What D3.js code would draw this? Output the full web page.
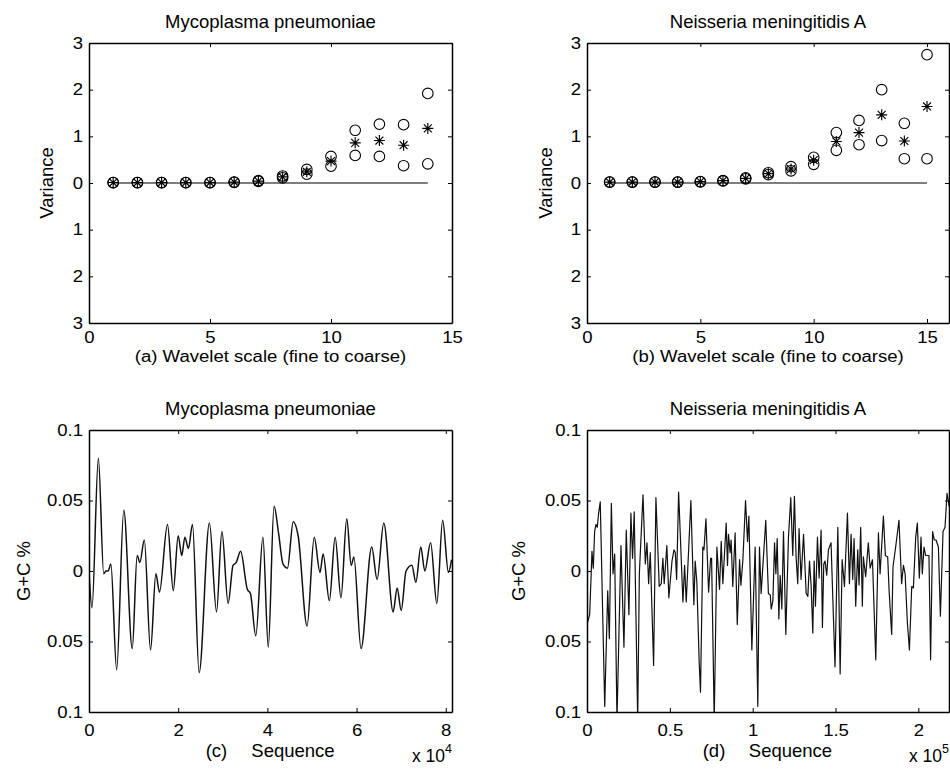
<!DOCTYPE html>
<html>
<head>
<meta charset="utf-8">
<script src="https://cdn.jsdelivr.net/npm/d3@7"></script>
<style>
  body { margin: 0; background: #fff; }
  svg text { font-family: "Liberation Sans", Arial, Helvetica, sans-serif; fill: #000; }
</style>
</head>
<body>
<div id="vis"></div>
<script>
// ---- data ----
// (a) Mycoplasma pneumoniae, wavelet variance per scale
var aScale = [1, 2, 3, 4, 5, 6, 7, 8, 9, 10, 11, 12, 13, 14];
var aUpper = [0.01, 0.01, 0.01, 0.01, 0.01, 0.02, 0.05, 0.15, 0.29, 0.57, 1.13, 1.26, 1.25, 1.92];
var aStar  = [0.01, 0.01, 0.01, 0.01, 0.01, 0.02, 0.04, 0.13, 0.24, 0.47, 0.86, 0.91, 0.81, 1.17];
var aLower = [0.01, 0.01, 0.01, 0.01, 0.01, 0.015, 0.035, 0.11, 0.19, 0.36, 0.59, 0.57, 0.37, 0.41];

// (b) Neisseria meningitidis A
var bScale = [1, 2, 3, 4, 5, 6, 7, 8, 9, 10, 11, 12, 13, 14, 15];
var bUpper = [0.02, 0.02, 0.02, 0.02, 0.03, 0.05, 0.11, 0.22, 0.35, 0.55, 1.08, 1.34, 2.0, 1.28, 2.75];
var bStar  = [0.02, 0.02, 0.02, 0.02, 0.03, 0.05, 0.10, 0.20, 0.30, 0.49, 0.89, 1.08, 1.46, 0.90, 1.64];
var bLower = [0.02, 0.02, 0.02, 0.02, 0.025, 0.045, 0.09, 0.18, 0.26, 0.40, 0.70, 0.82, 0.91, 0.52, 0.52];

// (c) G+C signal, position in units of 1e4
var cPos = [0, 0.067, 0.21, 0.33, 0.38, 0.43, 0.49, 0.62, 0.78, 0.97, 1.08, 1.14, 1.24, 1.38, 1.50, 1.58,
  1.76, 1.89, 2.00, 2.08, 2.15, 2.23, 2.32, 2.47, 2.70, 2.86, 2.98, 3.12, 3.23, 3.30, 3.40, 3.55, 3.62,
  3.74, 3.90, 4.02, 4.15, 4.25, 4.35, 4.45, 4.58, 4.69, 4.89, 5.05, 5.18, 5.25, 5.39, 5.52, 5.65, 5.78,
  5.88, 5.94, 6.10, 6.34, 6.46, 6.61, 6.82, 6.91, 7.00, 7.11, 7.24, 7.33, 7.44, 7.53, 7.66, 7.80, 7.93,
  8.06, 8.13];
var cVal = [0.000, -0.026, 0.080, -0.002, 0.000, -0.000, 0.005, -0.070, 0.043, -0.055, 0.011, 0.006, 0.022,
  -0.056, -0.002, -0.015, 0.033, -0.014, 0.025, 0.011, 0.024, 0.016, 0.033, -0.072, 0.034, -0.029, 0.028,
  -0.023, 0.004, 0.006, 0.014, -0.013, -0.016, -0.046, 0.024, -0.054, 0.046, 0.027, 0.005, 0.002, 0.035,
  0.025, -0.039, 0.024, -0.001, 0.012, -0.021, 0.024, -0.019, 0.037, 0.004, 0.010, -0.055, 0.017, -0.006,
  0.034, -0.029, -0.012, -0.028, 0.000, 0.004, -0.008, 0.017, 0.000, 0.020, -0.023, 0.036, -0.001, 0.008];

// (d) G+C signal, position in units of 1e5
var dPos = [0, 0.016, 0.024, 0.030, 0.038, 0.046, 0.054, 0.062, 0.070, 0.080, 0.107, 0.125, 0.135, 0.147,
  0.157, 0.167, 0.181, 0.205, 0.223, 0.237, 0.253, 0.265, 0.275, 0.285, 0.306, 0.316, 0.338, 0.352, 0.362,
  0.372, 0.382, 0.402, 0.416, 0.436, 0.448, 0.458, 0.466, 0.482, 0.494, 0.513, 0.525, 0.533, 0.541, 0.553,
  0.579, 0.589, 0.599, 0.627, 0.645, 0.653, 0.663, 0.677, 0.685, 0.699, 0.706, 0.718, 0.734, 0.746, 0.752,
  0.768, 0.784, 0.800, 0.810, 0.820, 0.840, 0.848, 0.854, 0.864, 0.870, 0.880, 0.894, 0.907, 0.921, 0.929,
  0.941, 0.957, 0.969, 0.977, 0.995, 1.015, 1.031, 1.041, 1.051, 1.079, 1.095, 1.106, 1.112, 1.122, 1.132,
  1.140, 1.148, 1.158, 1.166, 1.176, 1.186, 1.200, 1.216, 1.230, 1.242, 1.252, 1.262, 1.272, 1.280, 1.292,
  1.307, 1.323, 1.333, 1.343, 1.353, 1.363, 1.371, 1.379, 1.391, 1.401, 1.413, 1.421, 1.429, 1.437, 1.447,
  1.457, 1.473, 1.497, 1.514, 1.528, 1.540, 1.554, 1.572, 1.584, 1.594, 1.604, 1.612, 1.622, 1.634, 1.642,
  1.652, 1.662, 1.668, 1.682, 1.698, 1.709, 1.723, 1.743, 1.759, 1.769, 1.789, 1.801, 1.815, 1.823, 1.839,
  1.847, 1.863, 1.883, 1.899, 1.910, 1.920, 1.934, 1.946, 1.960, 1.970, 1.984, 1.994, 2.006, 2.016, 2.024,
  2.034, 2.044, 2.064, 2.074, 2.086, 2.096, 2.107, 2.121, 2.133, 2.149, 2.161, 2.173, 2.181, 2.185];
var dVal = [-0.038, -0.031, -0.006, 0.014, 0.002, 0.028, 0.033, 0.031, 0.041, 0.049, -0.096, -0.014, -0.048,
  0.048, -0.002, 0.012, -0.106, 0.018, -0.054, 0.029, -0.031, 0.041, 0.009, 0.042, -0.106, -0.002, 0.054,
  0.005, 0.020, -0.009, 0.013, -0.067, 0.052, -0.011, -0.009, 0.009, -0.009, 0.018, -0.019, 0.007, 0.015,
  0.013, -0.006, 0.056, -0.022, 0.004, -0.022, 0.050, -0.024, 0.007, -0.008, -0.064, -0.086, 0.017, 0.015,
  0.037, -0.015, 0.009, 0.009, -0.106, 0.017, -0.013, 0.021, -0.009, 0.034, 0.004, 0.026, 0.013, 0.022,
  -0.011, 0.027, -0.038, 0.008, -0.010, 0.008, 0.050, 0.021, 0.039, -0.056, 0.017, -0.096, 0.017, -0.016,
  0.036, -0.016, -0.017, -0.027, -0.021, 0.020, -0.002, 0.023, -0.034, -0.003, -0.027, 0.028, -0.045, 0.024,
  0.052, 0.011, 0.053, 0.010, -0.009, 0.030, -0.006, 0.026, -0.016, -0.018, 0.007, -0.011, -0.044, 0.007,
  -0.025, 0.024, -0.005, 0.029, -0.040, 0.005, 0.007, -0.003, 0.015, 0.020, -0.068, 0.031, -0.073, 0.008,
  -0.011, 0.041, -0.009, 0.026, -0.006, 0.023, -0.025, 0.015, -0.010, 0.031, -0.025, 0.010, -0.004, 0.020,
  0.002, 0.008, -0.063, 0.027, -0.002, 0.039, 0.011, 0.010, -0.013, -0.045, 0.003, 0.017, 0.036, -0.009,
  0.004, -0.002, -0.037, -0.056, -0.011, -0.012, 0.024, 0.034, -0.005, 0.024, -0.002, 0.017, 0.011, 0.011,
  -0.063, 0.028, 0.022, 0.022, 0.017, -0.032, 0.028, 0.031, 0.055, 0.050, 0.046];

var varTicksX_a = [0, 5, 10, 15];
var varTicksX_b = [0, 5, 10, 15];
var varTicksY = [-3, -2, -1, 0, 1, 2, 3];
var gcTicksY = [-0.1, -0.05, 0, 0.05, 0.1];
var seqTicks_c = [0, 2, 4, 6, 8];
var seqTicks_d = [0, 0.5, 1, 1.5, 2];

// ---- layout ----
var opts = {
  width: 950,
  height: 769,
  tick: 4,
  tickFont: 16,
  stretch: 1.16,
  labelFont: 18.5,
  radius: 5.3,
  star: 5.5
};

var svg = d3.select("#vis")
  .append("svg")
  .attr("width", opts.width)
  .attr("height", opts.height);

function stretchText(sel) {
  sel.attr("transform", "scale(" + opts.stretch + ",1)");
}

function stretchTextAt(sel, x, y) {
  sel.attr("x", 0).attr("y", 0)
    .attr("transform", "translate(" + x + "," + y + ") scale(" + opts.stretch + ",1)");
}

function absFormat(d) { return String(Math.abs(d)); }

function drawFrame(p) {
  var g = svg.append("g");

  g.append("g")
    .attr("transform", "translate(0," + p.y1 + ")")
    .call(d3.axisBottom(p.x).tickValues(p.xticks).tickSizeInner(-opts.tick).tickSizeOuter(0).tickFormat(absFormat))
    .call(function(ax) {
      ax.selectAll("text").attr("y", p.xTickY).attr("dy", 0).call(stretchText);
    });

  g.append("g")
    .attr("transform", "translate(0," + p.y0 + ")")
    .call(d3.axisTop(p.x).tickValues(p.xticks).tickSizeInner(-opts.tick).tickSizeOuter(0).tickFormat(""));

  g.append("g")
    .attr("transform", "translate(" + p.x0 + ",0)")
    .call(d3.axisLeft(p.y).tickValues(p.yticks).tickSizeInner(-opts.tick).tickSizeOuter(0).tickFormat(absFormat))
    .call(function(ax) {
      ax.selectAll("text").attr("x", -6 / opts.stretch).call(stretchText);
    });

  g.append("g")
    .attr("transform", "translate(" + p.x1 + ",0)")
    .call(d3.axisRight(p.y).tickValues(p.yticks).tickSizeInner(-opts.tick).tickSizeOuter(0).tickFormat(""));

  g.selectAll(".domain").attr("stroke", "#000").attr("stroke-width", 1.5);
  g.selectAll(".tick line").attr("stroke", "#000").attr("stroke-width", 1);
  g.selectAll(".tick text")
    .style("font-family", "'Liberation Sans', Arial, sans-serif")
    .attr("font-size", opts.tickFont)
    .attr("fill", "#000");

  // title
  svg.append("text")
    .attr("x", (p.x0 + p.x1) / 2)
    .attr("y", p.y0 - 15.5)
    .attr("text-anchor", "middle")
    .attr("font-size", opts.labelFont)
    .text(p.title);

  // y label
  svg.append("text")
    .attr("transform", "translate(" + p.ylabX + "," + (p.y0 + p.y1) / 2 + ") rotate(-90)")
    .attr("text-anchor", "middle")
    .attr("font-size", opts.labelFont)
    .text(p.ylabel);
}

// ---- top row: variance panels ----
function variancePanel(p, scale, upper, star, lower) {
  p.x = d3.scaleLinear().domain(p.xdomain).range([p.x0, p.x1]);
  p.y = d3.scaleLinear().domain([-3, 3]).range([p.y1, p.y0]);
  p.xticks = p.xt;
  p.yticks = varTicksY;
  drawFrame(p);

  var rows = scale.map(function(s, i) { return { s: s, up: upper[i], mid: star[i], lo: lower[i] }; });

  svg.append("line")
    .attr("x1", p.x(scale[0]))
    .attr("x2", p.x(scale[scale.length - 1]))
    .attr("y1", p.y(0))
    .attr("y2", p.y(0))
    .attr("stroke", "#000")
    .attr("stroke-width", 1.2);

  ["up", "lo"].forEach(function(k) {
    svg.selectAll(".c-" + k + p.id)
      .data(rows)
      .enter()
      .append("circle")
      .attr("cx", function(d) { return p.x(d.s); })
      .attr("cy", function(d) { return p.y(d[k]); })
      .attr("r", opts.radius)
      .attr("fill", "none")
      .attr("stroke", "#000")
      .attr("stroke-width", 1.1);
  });

  var r = opts.star, k = opts.star * 0.72;
  var starPath = "M" + (-r) + ",0H" + r + "M0," + (-r) + "V" + r +
    "M" + (-k) + "," + (-k) + "L" + k + "," + k + "M" + (-k) + "," + k + "L" + k + "," + (-k);

  var stars = svg.selectAll(".s" + p.id)
    .data(rows)
    .enter()
    .append("g")
    .attr("transform", function(d) { return "translate(" + p.x(d.s) + "," + p.y(d.mid) + ")"; });
  stars.append("path")
    .attr("d", starPath)
    .attr("fill", "none")
    .attr("stroke", "#000")
    .attr("stroke-width", 1.15);
  stars.append("circle")
    .attr("r", 1.3)
    .attr("fill", "#000");

  svg.append("text")
    .attr("text-anchor", "middle")
    .attr("font-size", opts.tickFont)
    .call(stretchTextAt, (p.x0 + p.x1) / 2, p.y1 + p.xLabY)
    .text(p.xlabel);
}

variancePanel({ id: "a", x0: 89, x1: 452, y0: 43, y1: 323, xdomain: [0, 15], xt: varTicksX_a,
  title: "Mycoplasma pneumoniae", ylabel: "Variance", ylabX: 53, xTickY: 20, xLabY: 39,
  xlabel: "(a) Wavelet scale (fine to coarse)" }, aScale, aUpper, aStar, aLower);

variancePanel({ id: "b", x0: 587, x1: 949, y0: 43, y1: 323, xdomain: [0, 15.97], xt: varTicksX_b,
  title: "Neisseria meningitidis A", ylabel: "Variance", ylabX: 552, xTickY: 20, xLabY: 39,
  xlabel: "(b) Wavelet scale (fine to coarse)" }, bScale, bUpper, bStar, bLower);

// ---- bottom row: G+C signal panels ----
function signalPanel(p, pos, val, curve, width) {
  p.x = d3.scaleLinear().domain(p.xdomain).range([p.x0, p.x1]);
  p.y = d3.scaleLinear().domain([-0.1, 0.1]).range([p.y1, p.y0]);
  p.xticks = p.xt;
  p.yticks = gcTicksY;

  svg.append("clipPath")
    .attr("id", "clip" + p.id)
    .append("rect")
    .attr("x", p.x0)
    .attr("y", p.y0)
    .attr("width", p.x1 - p.x0)
    .attr("height", p.y1 - p.y0);

  var line = d3.line()
    .x(function(d) { return p.x(d[0]); })
    .y(function(d) { return p.y(d[1]); })
    .curve(curve);

  svg.append("path")
    .datum(pos.map(function(x, i) { return [x, val[i]]; }))
    .attr("clip-path", "url(#clip" + p.id + ")")
    .attr("d", line)
    .attr("fill", "none")
    .attr("stroke", "#111")
    .attr("stroke-width", width)
    .attr("stroke-linejoin", "round");

  drawFrame(p);

  var cx = (p.x0 + p.x1) / 2;
  svg.append("text")
    .attr("x", cx - 54)
    .attr("y", p.y1 + 45)
    .attr("text-anchor", "middle")
    .attr("font-size", opts.labelFont)
    .text(p.tag);
  svg.append("text")
    .attr("x", cx + 22.5)
    .attr("y", p.y1 + 45)
    .attr("text-anchor", "middle")
    .attr("font-size", opts.labelFont)
    .text("Sequence");

  var ex = svg.append("text")
    .attr("x", p.x1)
    .attr("y", p.y1 + 50)
    .attr("text-anchor", "end")
    .attr("font-size", 17.5)
    .text("x 10");
  ex.append("tspan")
    .attr("dy", -9)
    .attr("font-size", 12.5)
    .text(p.exp);
}

signalPanel({ id: "c", x0: 89, x1: 452, y0: 430, y1: 712, xdomain: [0, 8.14], xt: seqTicks_c,
  title: "Mycoplasma pneumoniae", ylabel: "G+C %", ylabX: 30, xTickY: 24, tag: "(c)", exp: "4" },
  cPos, cVal, d3.curveMonotoneX, 1.5);

signalPanel({ id: "d", x0: 587, x1: 949, y0: 430, y1: 712, xdomain: [0, 2.185], xt: seqTicks_d,
  title: "Neisseria meningitidis A", ylabel: "G+C %", ylabX: 525, xTickY: 24, tag: "(d)", exp: "5" },
  dPos, dVal, d3.curveLinear, 1.2);
</script>
</body>
</html>
